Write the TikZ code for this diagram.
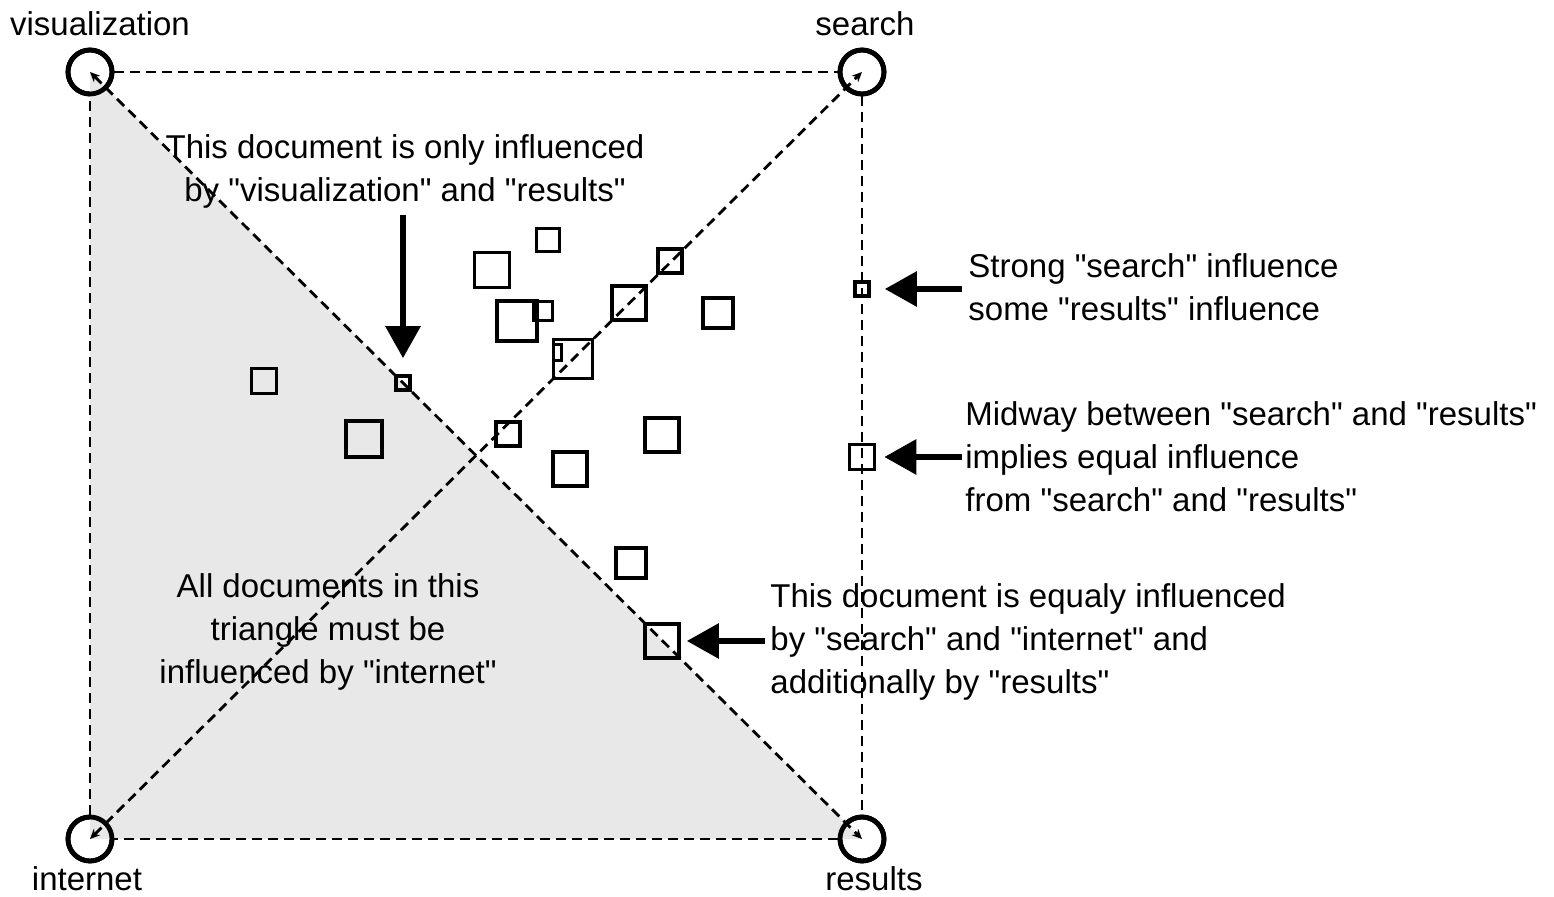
\documentclass[tikz,border=0pt]{standalone}
\usepackage{fontspec}
\newfontfamily\lfont{Liberation Sans}
\usetikzlibrary{arrows.meta}
\definecolor{lightshadegray}{RGB}{232,232,232}
\begin{document}
\begin{tikzpicture}[x=0.5pt,y=-0.5pt,
  corner/.style={circle, draw, line width=2.4pt, minimum size=22pt, inner sep=0pt},
  edgeline/.style={dash pattern=on 5pt off 3pt, line width=1.3pt},
  diag/.style={edgeline, line width=1.4pt, {Stealth[length=5pt,width=4.5pt]}-{Stealth[length=5pt,width=4.5pt]}},
  doc/.style={draw, rectangle, line width=1.8pt, inner sep=0pt, minimum size=#1},
  bigarrow/.style={line width=3pt, -{Triangle[length=16pt,width=17pt]}},
  lbl/.style={font=\lfont\fontsize{16.5}{21.5}\selectfont, inner sep=0pt}]
\useasboundingbox (0,0) rectangle (1554,897);

% corners
\node[corner] (vis) at (90,72) {};
\node[corner] (srch) at (862,72) {};
\node[corner] (int) at (90,839) {};
\node[corner] (res) at (862,839) {};

% shaded triangle
\fill[lightshadegray] (vis.center) -- (int.center) -- (res.center) -- cycle;

% square edges
\draw[edgeline] (vis) -- (srch);
\draw[edgeline] (srch) -- (res);
\draw[edgeline] (res) -- (int);
\draw[edgeline] (int) -- (vis);
% diagonals
\draw[diag] (vis.center) -- (res.center);
\draw[diag] (int.center) -- (srch.center);

% redraw corners on top
\node[corner] at (vis.center) {};
\node[corner] at (srch.center) {};
\node[corner] at (int.center) {};
\node[corner] at (res.center) {};

% documents
\node[doc=11.5pt] (d1) at (548,240) {};
\node[doc=17.5pt] (d2) at (492,270) {};
\node[doc=12pt] (d3) at (670,261) {};
\node[doc=17pt] (d4) at (629,303) {};
\node[doc=20pt] (d5) at (517,321) {};
\node[doc=9.5pt] (d6) at (543,311) {};
\node[doc=15pt] (d7) at (718,313) {};
\node[doc=19.5pt] (d8) at (573,359) {};
\node[draw, line width=1.5pt, inner sep=0pt, minimum width=4pt, minimum height=8pt] (d9) at (557,353) {};
\node[doc=12.5pt] (d10) at (264,381) {};
\node[doc=7pt] (d11) at (403,383) {};
\node[doc=18pt] (d12) at (364,439) {};
\node[doc=12pt] (d13) at (508,434) {};
\node[doc=17pt] (d14) at (662,435) {};
\node[doc=17pt] (d15) at (570,469) {};
\node[doc=15pt] (d16) at (631,563) {};
\node[doc=17pt] (d17) at (662,641) {};
\node[doc=7pt] (d18) at (862,289) {};
\node[doc=12.5pt] (d19) at (862,457) {};

% corner labels
\node[lbl] (tvis) at (100,24) {visualization};
\node[lbl] (tsrch) at (865,24) {search};
\node[lbl] (tint) at (87,879) {internet};
\node[lbl] (tres) at (874,879) {results};

% annotations
\node[lbl, align=center] (n1) at (405,171) {This document is only influenced\\by "visualization" and "results"};
\node[lbl, align=left, anchor=west] (n2) at (968,287) {Strong "search" influence\\some "results" influence};
\node[lbl, align=left, anchor=west] (n3) at (965,457) {Midway between "search" and "results"\\implies equal influence\\from "search" and "results"};
\node[lbl, align=left, anchor=west] (n4) at (770,642) {This document is equaly influenced\\by "search" and "internet" and\\additionally by "results"};
\node[lbl, align=center] (n5) at (328,632) {All documents in this\\triangle must be\\influenced by "internet"};

% arrows
\coordinate (a1) at (403,215);
\coordinate (a2) at (962,289);
\coordinate (a3) at (962,457);
\coordinate (a4) at (765,641);
\draw[bigarrow, shorten >=8pt] (a1) -- (d11);
\draw[bigarrow, shorten >=7pt] (a2) -- (d18);
\draw[bigarrow, shorten >=4pt] (a3) -- (d19);
\draw[bigarrow, shorten >=3pt] (a4) -- (d17);
\end{tikzpicture}
\end{document}
